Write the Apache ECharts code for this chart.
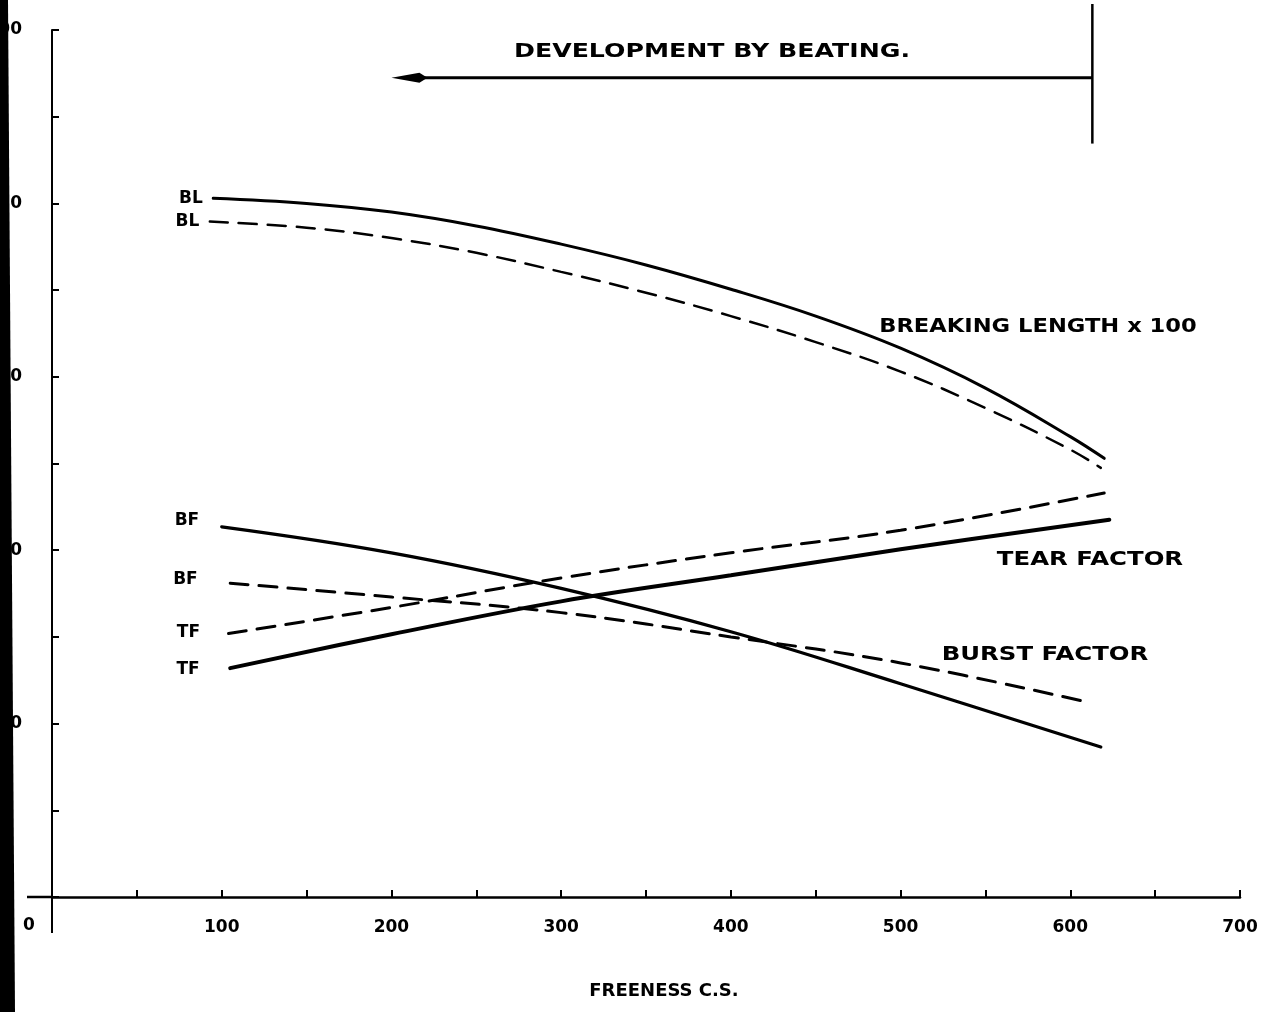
<!DOCTYPE html>
<html><head><meta charset="utf-8">
<script src="https://cdn.jsdelivr.net/npm/echarts@6/dist/echarts.min.js"></script>
<style>html,body{margin:0;padding:0;background:#fff}#c{width:1264px;height:1012px}</style>
</head><body><div id="c"></div>
<script>
// Freeness (C.S.) positions and values
const blSolidX   = [95, 150, 200, 250, 300, 350, 400, 450, 500, 550, 600, 620];
const blSolidY   = [80.6, 80.0, 79.0, 77.4, 75.3, 72.9, 70.1, 67.0, 63.3, 58.7, 53.1, 50.6];
const blDashX    = [93, 150, 200, 250, 300, 350, 400, 450, 500, 550, 600, 618];
const blDashY    = [77.9, 77.2, 76.0, 74.3, 72.1, 69.7, 67.0, 64.0, 60.6, 56.4, 51.6, 49.5];
const bfSolidX   = [100, 200, 300, 400, 500, 618];
const bfSolidY   = [42.7, 39.7, 35.6, 30.6, 24.6, 17.3];
const bfDashX    = [105, 200, 300, 400, 500, 612];
const bfDashY    = [36.2, 34.6, 32.8, 30.0, 27.0, 22.4];
const tfSolidX   = [105, 200, 300, 400, 500, 623];
const tfSolidY   = [26.4, 30.3, 34.1, 37.1, 40.1, 43.5];
const tfDashX    = [104, 200, 300, 400, 500, 620];
const tfDashY    = [30.4, 33.4, 36.8, 39.7, 42.3, 46.6];
const xTicks     = [0, 100, 200, 300, 400, 500, 600, 700];
const yTicks     = [0, 20, 40, 60, 80, 100];
// Annotation: development by beating arrow (freeness from -> to, level)
const arrowFrom = 613, arrowTo = 200, arrowLevel = 94.5, barTop = 103, barBottom = 86.9;

const FONT = 'DejaVu Sans';
const chart = echarts.init(document.getElementById('c'), null, {renderer: 'canvas'});

function pts(xs, ys, label, dist, offY) {
  return xs.map((x, i) => i === 0 ? {
    value: [x, ys[i]],
    label: {show: true, formatter: label, position: 'left', distance: dist, offset: [0, offY || 0],
      fontFamily: FONT, fontWeight: 'bold', fontSize: 17, color: '#000'}
  } : [x, ys[i]]);
}
function line(name, xs, ys, label, dashed, width, dist, offY) {
  return {
    name, type: 'line', smooth: 0.4,
    symbol: 'circle', symbolSize: 1, showSymbol: true,
    itemStyle: {color: 'rgba(0,0,0,0)'},
    data: pts(xs, ys, label, dist, offY),
    lineStyle: {color: '#000', width: width, type: dashed ? [18, 11] : 'solid', cap: 'round'},
    label: {show: false}, emphasis: {disabled: true}, z: 3
  };
}

chart.setOption({
  animation: false,
  backgroundColor: '#fff',
  grid: {left: 52, right: 24, top: 30, bottom: 115, containLabel: false, outerBoundsMode: 'none'},
  xAxis: {
    type: 'value', min: 0, max: 700, interval: 50,
    axisLine: {lineStyle: {color: '#000', width: 2.5}},
    axisTick: {show: true, inside: true, length: 7, lineStyle: {color: '#000', width: 2}},
    axisLabel: {
      margin: 22, color: '#000', fontFamily: FONT, fontWeight: 'bold', fontSize: 17,
      formatter: v => (v !== 0 && xTicks.indexOf(v) >= 0) ? String(v) : ''
    },
    splitLine: {show: false},
    name: 'FREENESS C.S.', nameLocation: 'middle', nameGap: 85,
    nameTextStyle: {color: '#000', fontFamily: FONT, fontWeight: 'bold', fontSize: 18, padding: [0, 0, 0, 36]}
  },
  yAxis: {
    type: 'value', min: 0, max: 100, interval: 20,
    axisLine: {show: true, lineStyle: {color: '#000', width: 2}},
    axisTick: {show: true, inside: true, length: 7, lineStyle: {color: '#000', width: 2}},
    minorTick: {show: true, splitNumber: 2, length: 7, lineStyle: {color: '#000', width: 2}},
    axisLabel: {
      margin: 30, color: '#000', fontFamily: FONT, fontWeight: 'bold', fontSize: 17,
      formatter: v => (v !== 0 && yTicks.indexOf(v) >= 0) ? String(v) : ''
    },
    splitLine: {show: false}
  },
  tooltip: {show: false},
  series: [
    line('BL solid', blSolidX, blSolidY, 'BL', false, 3, 10, 0),
    line('BL dashed', blDashX, blDashY, 'BL', true, 2.5, 10, 0),
    line('BF solid', bfSolidX, bfSolidY, 'BF', false, 3.2, 22, -6),
    line('BF dashed', bfDashX, bfDashY, 'BF', true, 3, 32, -4),
    line('TF dashed', tfDashX, tfDashY, 'TF', true, 3, 28, -1),
    line('TF solid', tfSolidX, tfSolidY, 'TF', false, 4, 30, 1)
  ]
});

// Decorations placed through the chart's own scales
const P = (x, y) => chart.convertToPixel({gridIndex: 0}, [x, y]);
const o = P(0, 0);
const a1 = P(arrowFrom, arrowLevel), a2 = P(arrowTo, arrowLevel);
const bt = P(arrowFrom, barTop), bb = P(arrowFrom, barBottom);
const tstyle = (txt, size) => ({text: txt, fill: '#000', font: 'bold ' + size + 'px "' + FONT + '"', textAlign: 'center', textVerticalAlign: 'middle'});

chart.setOption({
  graphic: [
    // axis extensions
    {type: 'line', shape: {x1: o[0] - 25, y1: o[1], x2: o[0], y2: o[1]}, style: {stroke: '#000', lineWidth: 2.5}},
    {type: 'line', shape: {x1: o[0], y1: o[1], x2: o[0], y2: o[1] + 36}, style: {stroke: '#000', lineWidth: 2}},
    {type: 'text', x: o[0] - 23, y: o[1] + 29, style: tstyle('0', 17)},
    // development arrow
    {type: 'line', shape: {x1: a1[0], y1: a1[1], x2: a2[0] + 24, y2: a2[1]}, style: {stroke: '#000', lineWidth: 3}},
    {type: 'polygon', shape: {points: [[a2[0], a2[1]], [a2[0] + 28, a2[1] - 5], [a2[0] + 36, a2[1]], [a2[0] + 28, a2[1] + 5]]}, style: {fill: '#000'}},
    {type: 'line', shape: {x1: bt[0], y1: bt[1], x2: bb[0], y2: bb[1]}, style: {stroke: '#000', lineWidth: 2.5}},
    {type: 'text', x: 712, y: 52, style: tstyle('DEVELOPMENT BY BEATING.', 20), scaleX: 1.26, originX: 0},
    // curve titles
    {type: 'text', x: 1038, y: 327, style: tstyle('BREAKING LENGTH x 100', 20), scaleX: 1.13, originX: 0},
    {type: 'text', x: 1090, y: 560, style: tstyle('TEAR FACTOR', 20), scaleX: 1.22, originX: 0},
    {type: 'text', x: 1045, y: 655, style: tstyle('BURST FACTOR', 20), scaleX: 1.22, originX: 0},
    // dark scan edge on the left
    {type: 'polygon', z: 100, shape: {points: [[0, 0], [8, 0], [15, 1012], [0, 1012]]}, style: {fill: '#000'}}
  ]
});
</script>
</body></html>
